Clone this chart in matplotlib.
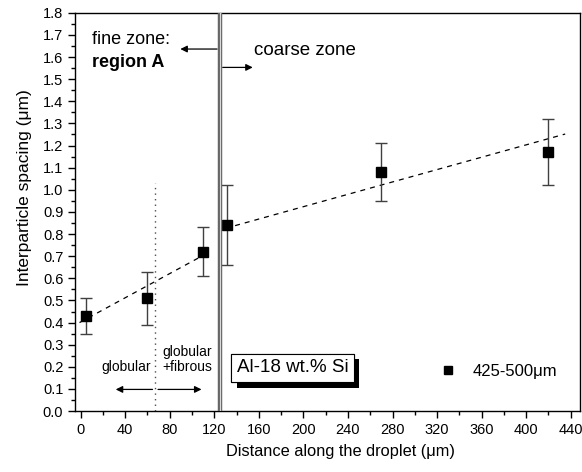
import matplotlib
matplotlib.use("Agg")
import matplotlib.pyplot as plt
import matplotlib.patheffects as pe
from matplotlib.ticker import MultipleLocator, FormatStrFormatter

plt.rcParams["font.family"] = ["Liberation Sans", "DejaVu Sans"]

# measured points
distance = [5, 60, 110, 131, 270, 420]
spacing = [0.43, 0.51, 0.72, 0.84, 1.08, 1.17]
err_low = [0.08, 0.12, 0.11, 0.18, 0.13, 0.15]
err_high = [0.08, 0.12, 0.11, 0.18, 0.13, 0.15]

# dashed trend lines (end points)
fine_fit_x = [-1, 116]
fine_fit_y = [0.40, 0.72]
coarse_fit_x = [130, 435]
coarse_fit_y = [0.826, 1.252]

zone_boundary = 125
morph_boundary = 67
series_label = "425-500μm"
alloy_label = "Al-18 wt.% Si"

fig = plt.figure(figsize=(5.82, 4.72), dpi=100)
ax = fig.add_axes([0.129, 0.129, 0.867, 0.844])

ax.plot(fine_fit_x, fine_fit_y, ls=(0, (4, 4)), color="k", lw=0.9)
ax.plot(coarse_fit_x, coarse_fit_y, ls=(0, (4, 4)), color="k", lw=0.9)

ax.errorbar(distance, spacing, yerr=[err_low, err_high], fmt="none",
            ecolor="0.25", elinewidth=1.0, capsize=4, capthick=1.0)
ax.plot(distance, spacing, "s", color="k", ms=7, label=series_label)

# zone boundary (double line)
ax.axvline(zone_boundary, color="0.4", lw=3.2, zorder=5)
ax.axvline(zone_boundary, color="0.85", lw=0.8, zorder=6)

# morphology boundary
ax.plot([morph_boundary, morph_boundary], [0.0, 1.03], ls=(0, (1, 3)),
        color="0.3", lw=1.0)

# zone arrows
arrow = dict(arrowstyle="-|>", color="k", lw=0.9, mutation_scale=10)
ax.annotate("", xy=(87, 1.636), xytext=(zone_boundary, 1.636), arrowprops=arrow)
ax.annotate("", xy=(157, 1.553), xytext=(zone_boundary, 1.553), arrowprops=arrow)
ax.annotate("", xy=(29, 0.098), xytext=(morph_boundary, 0.098), arrowprops=arrow)
ax.annotate("", xy=(111, 0.098), xytext=(morph_boundary, 0.098), arrowprops=arrow)

ax.text(10, 1.68, "fine zone:", fontsize=13, va="center", ha="left")
ax.text(10, 1.574, "region A", fontsize=13, fontweight="bold", va="center", ha="left")
ax.text(156, 1.628, "coarse zone", fontsize=13.5, va="center", ha="left")
ax.text(40.5, 0.20, "globular", fontsize=10, va="center", ha="center")
ax.text(73, 0.234, "globular\n+fibrous", fontsize=10, va="center", ha="left",
        linespacing=1.05)

t = ax.text(140, 0.195, alloy_label, fontsize=13.5, va="center", ha="left",
            bbox=dict(boxstyle="square,pad=0.3", fc="white", ec="k", lw=0.8))
t.get_bbox_patch().set_path_effects(
    [pe.withSimplePatchShadow(offset=(4, -4), shadow_rgbFace="k", alpha=1.0),
     pe.Normal()])

ax.legend(loc="center left", bbox_to_anchor=(0.722, 0.099), frameon=False,
          fontsize=12, handletextpad=1.0, handlelength=1.0, borderpad=0,
          borderaxespad=0, markerscale=0.9)

ax.set_xlim(-5, 448)
ax.set_ylim(0, 1.8)
ax.xaxis.set_major_locator(MultipleLocator(40))
ax.xaxis.set_minor_locator(MultipleLocator(20))
ax.yaxis.set_major_locator(MultipleLocator(0.1))
ax.yaxis.set_minor_locator(MultipleLocator(0.05))
ax.yaxis.set_major_formatter(FormatStrFormatter("%.1f"))
ax.tick_params(which="both", direction="out", top=False, right=False,
               labelsize=10.5, width=1.0)
ax.tick_params(which="major", length=5)
ax.tick_params(which="minor", length=3)
for s in ax.spines.values():
    s.set_linewidth(1.0)

ax.set_xlabel("Distance along the droplet (μm)", fontsize=11.8, labelpad=5, x=0.525)
ax.set_ylabel("Interparticle spacing (μm)", fontsize=12.5, labelpad=8, y=0.56)

fig.savefig("out.png", dpi=100)
